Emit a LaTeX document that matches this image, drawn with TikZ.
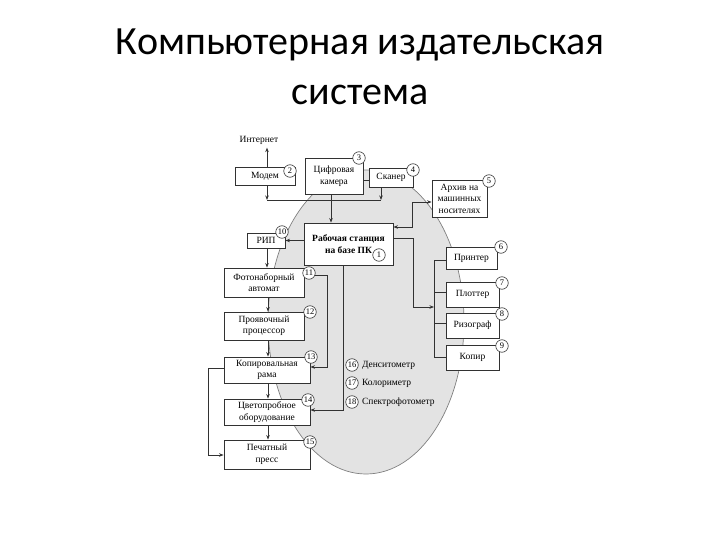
\documentclass[tikz,border=0pt]{standalone}
\usepackage{fontspec}
\setmainfont{Liberation Serif}
\newfontfamily\titlefont{Carlito}
\usetikzlibrary{arrows.meta, positioning, calc}
\definecolor{schemeGray}{RGB}{227, 227, 227}
\definecolor{schemeLine}{RGB}{50, 50, 50}

\begin{document}
\begin{tikzpicture}[x=1pt, y=-1pt,
    box/.style={draw=schemeLine, fill=white, line width=0.9pt, inner sep=1pt, align=center, font=\fontsize{9.5}{11.5}\selectfont},
    num/.style={circle, draw=schemeLine, fill=white, line width=0.6pt, inner sep=0pt, minimum size=12.5pt, font=\fontsize{8.5}{8.5}\selectfont},
    arr/.style={-{Stealth[length=4.5pt, width=3.5pt]}, schemeLine, line width=0.8pt},
    link/.style={schemeLine, line width=0.8pt}]
                \useasboundingbox (0,0) rectangle (720,540);

                % Title
                \node[font=\titlefont\fontsize{40}{50}\selectfont, align=center] (title) at (360,67) {Компьютерная издательская\\система};

                % Background ellipse
                \draw[fill=schemeGray, draw=gray, line width=0.7pt] (366,322) ellipse [x radius=98, y radius=152];

                % Input devices
                \node[font=\fontsize{9.5}{11.5}\selectfont] (inet) at (259,140) {Интернет};
                \node[box, minimum width=60pt, minimum height=18pt] (modem) at (265,176) {Модем};
                \node[box, minimum width=58pt, minimum height=36pt] (camera) at (334,176) {Цифровая\\камера};
                \node[box, minimum width=44pt, minimum height=19pt] (scanner) at (391,177.5) {Сканер};
                \node[box, minimum width=55pt, minimum height=37pt] (archive) at (459.5,198.5) {Архив на\\машинных\\носителях};

                % Workstation and RIP
                \node[box, minimum width=89pt, minimum height=42pt, font=\fontsize{9.5}{12.5}\selectfont\bfseries] (ws) at (348.5,244) {Рабочая станция\\на базе ПК};
                \node[box, minimum width=38pt, minimum height=15pt] (rip) at (266,240.5) {РИП};

                % Prepress chain
                \node[box, minimum width=80pt, minimum height=29pt] (photo) at (264,282.5) {Фотонаборный\\автомат};
                \node[box, minimum width=80pt, minimum height=28pt] (proc) at (264,326) {Проявочный\\процессор};
                \node[box, minimum width=86pt, minimum height=26pt] (copy) at (267,370) {Копировальная\\рама};
                \node[box, minimum width=86pt, minimum height=26pt] (proof) at (267,412) {Цветопробное\\оборудование};
                \node[box, minimum width=86pt, minimum height=29pt] (press) at (267,454.5) {Печатный\\пресс};

                % Output devices
                \node[box, minimum width=51pt, minimum height=22pt] (printer) at (471.5,258) {Принтер};
                \node[box, minimum width=53pt, minimum height=25pt] (plotter) at (472.5,294.5) {Плоттер};
                \node[box, minimum width=53pt, minimum height=25pt] (riso) at (472.5,325.5) {Ризограф};
                \node[box, minimum width=53pt, minimum height=25pt] (copier) at (472.5,357.5) {Копир};

                % Measuring devices
                \node[num] (n16) at (352,365) {16};
                \node[num] (n17) at (352,383) {17};
                \node[num] (n18) at (352,402) {18};
                \node[font=\fontsize{9.5}{11.5}\selectfont, anchor=west] (dens) at (n16.east) {Денситометр};
                \node[font=\fontsize{9.5}{11.5}\selectfont, anchor=west] (color) at (n17.east) {Колориметр};
                \node[font=\fontsize{9.5}{11.5}\selectfont, anchor=west] (spectro) at (n18.east) {Спектрофотометр};

                % Input connectors
                \coordinate (busL) at (267,200);
                \coordinate (busR) at (381,200);
                \draw[arr] (modem.north -| busL) -- (busL |- inet.south);
                \draw[arr] (modem.south -| busL) -- (busL);
                \draw[arr] (scanner.south -| busR) -- (busR);
                \draw[link] (busL) -- (busR);
                \draw[arr] (camera.south -| 331,0) -- (ws.north -| 331,0);
                \draw[link] (camera.east |- 0,180) -- (scanner.west |- 0,180);
                \draw[arr, {Stealth[length=4.5pt, width=3.5pt]}-{Stealth[length=4.5pt, width=3.5pt]}] (archive.west |- 0,202) -- (412,202) -- (412,227) -- (ws.east |- 0,227);

                % Prepress connectors
                \draw[arr] (ws.west |- rip.east) -- (rip.east);
                \draw[arr] (rip.south -| 267,0) -- (photo.north -| 267,0);
                \draw[arr] (photo.south -| 268,0) -- (proc.north -| 268,0);
                \draw[arr] (proc.south -| 268,0) -- (copy.north -| 268,0);
                \draw[arr] (copy.south -| 268,0) -- (proof.north -| 268,0);
                \draw[arr] (proof.south -| 268,0) -- (press.north -| 268,0);
                \draw[arr] (photo.east |- 0,275) -- (327,275) -- (327,367) -- (copy.east |- 0,367);
                \draw[arr] (copy.west |- 0,368) -- (208,368) -- (208,455) -- (press.west |- 0,455);
                \draw[arr] (ws.south -| 343,0) -- (343,410) -- (proof.east |- 0,410);

                % Output connectors
                \coordinate (outbus) at (434,307);
                \draw[arr] (ws.east |- 0,238) -- (413,238) -- (413,307) -- (outbus);
                \draw[link] (434,260) -- (434,357);
                \draw[link] (434,260) -- (printer.west |- 0,260);
                \draw[link] (434,292) -- (plotter.west |- 0,292);
                \draw[link] (434,323) -- (riso.west |- 0,323);
                \draw[link] (434,357) -- (copier.west |- 0,357);

                % Numbers
                \node[num] (n1) at (379,255) {1};
                \node[num] (n2) at (290,171) {2};
                \node[num] (n3) at (359,158) {3};
                \node[num] (n4) at (413,170) {4};
                \node[num] (n5) at (489,181) {5};
                \node[num] (n6) at (501,247) {6};
                \node[num] (n7) at (502,283) {7};
                \node[num] (n8) at (502,314) {8};
                \node[num] (n9) at (502,346) {9};
                \node[num] (n10) at (282,232) {10};
                \node[num] (n11) at (309,273) {11};
                \node[num] (n12) at (310,312) {12};
                \node[num] (n13) at (311,357) {13};
                \node[num] (n14) at (308,400) {14};
                \node[num] (n15) at (310,442) {15};
\end{tikzpicture}
\end{document}
